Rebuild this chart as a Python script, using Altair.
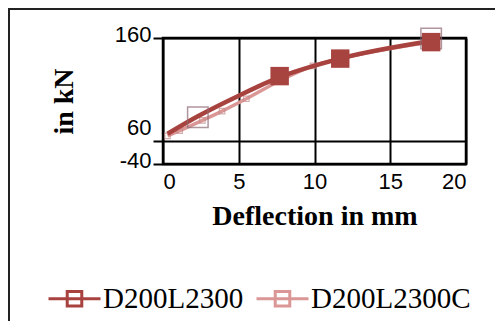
import altair as alt
import pandas as pd

series_names = ["D200L2300", "D200L2300C"]
series_colors = ["#A8423E", "#DA9796"]

s1_x = [0.3, 2.3, 5.0, 7.7, 11.7, 17.7]
s1_y = [67, 84, 104, 122, 140, 157]
s2_x = [0.3, 1.1, 2.6, 3.9, 5.5, 7.9, 9.9, 11.7, 17.7]
s2_y = [65, 70, 80, 89, 101, 120, 133, 140, 156]

hollow_x = [2.3, 17.7]
hollow_y = [83, 159.5]
filled_x = [7.7, 11.7, 17.7]
filled_y = [123, 140, 156]

x_ticks = [0, 5, 10, 15, 20]
y_ticks = [-40, 60, 160]

df1 = pd.DataFrame({"x": s1_x, "y": s1_y, "series": series_names[0]})
df2 = pd.DataFrame({"x": s2_x, "y": s2_y, "series": series_names[1]})
dh = pd.DataFrame({"x": hollow_x, "y": hollow_y})
dfill = pd.DataFrame({"x": filled_x, "y": filled_y})

xscale = alt.Scale(domain=[0, 20], nice=False, zero=False)
yscale = alt.Scale(domain=[-40, 60, 160], range=[126, 103, 0])

x_axis = alt.Axis(values=x_ticks, title="Deflection in mm", grid=True, gridColor="black",
                  gridWidth=2, gridOpacity=1, ticks=False, domain=False,
                  labelFont="Liberation Sans", labelFontSize=22, labelColor="black",
                  labelPadding=7, titleFont="Liberation Serif", titleFontSize=28,
                  titleFontWeight="bold", titleColor="black", titlePadding=10)
y_axis = alt.Axis(values=y_ticks, title="in kN", grid=True, gridColor="black",
                  gridWidth=2, gridOpacity=1, ticks=True, tickSize=10, tickWidth=2,
                  tickColor="black", domain=False, labelExpr="'' + datum.value",
                  labelFont="Liberation Sans", labelFontSize=22, labelColor="black",
                  labelPadding=2,
                  labelOffset={"condition": {"test": "datum.value == 60", "value": -14}, "value": -4},
                  titleFont="Liberation Serif", titleFontSize=28, titleFontWeight="bold",
                  titleColor="black", titlePadding=36)

color = alt.Color("series:N", scale=alt.Scale(domain=series_names, range=series_colors),
                  legend=alt.Legend(title=None, orient="none", legendX=-116, legendY=233,
                                    direction="horizontal", columns=2,
                                    symbolType="M-1,0H1M-0.28,-0.28H0.28V0.28H-0.28Z",
                                    symbolSize=2704, symbolStrokeWidth=3,
                                    symbolFillColor="transparent",
                                    labelFont="Liberation Serif", labelFontSize=29,
                                    labelColor="black", labelOffset=1, columnPadding=6,
                                    labelLimit=300))

base_x = alt.X("x:Q", scale=xscale, axis=x_axis)
base_y = alt.Y("y:Q", scale=yscale, axis=y_axis)

frame = alt.Chart(pd.DataFrame({"a": [0]})).mark_rect(
    filled=False, stroke="#222", strokeWidth=2).encode(
    x=alt.value(-154), x2=alt.value(400), y=alt.value(-29), y2=alt.value(400))

line2 = alt.Chart(df2).mark_line(interpolate="monotone", strokeWidth=3.5).encode(
    x=base_x, y=base_y, color=color)
pts2 = alt.Chart(df2).mark_point(shape="square", size=30, filled=False,
                                 stroke="#C48C8C", strokeWidth=1.2).encode(
    x="x:Q", y="y:Q")
line1 = alt.Chart(df1).mark_line(interpolate="monotone", strokeWidth=4.5).encode(
    x=base_x, y=base_y, color=color)
hollow = alt.Chart(dh).mark_point(shape="square", size=420, filled=False,
                                  stroke="#8E6A74", strokeWidth=1.5).encode(
    x="x:Q", y="y:Q")
filled = alt.Chart(dfill).mark_point(shape="square", size=340, filled=True,
                                     fill="#A8443F", opacity=1).encode(
    x="x:Q", y="y:Q")

chart = alt.layer(frame, line2, pts2, line1, hollow, filled).properties(
    width=303, height=126,
    padding={"left": 155, "top": 30, "right": 29, "bottom": 157},
    autosize=alt.AutoSizeParams(type="none"),
).configure_view(stroke="black", strokeWidth=2.5)

chart.save("out.html", embed_options={"renderer": "svg", "actions": False})
